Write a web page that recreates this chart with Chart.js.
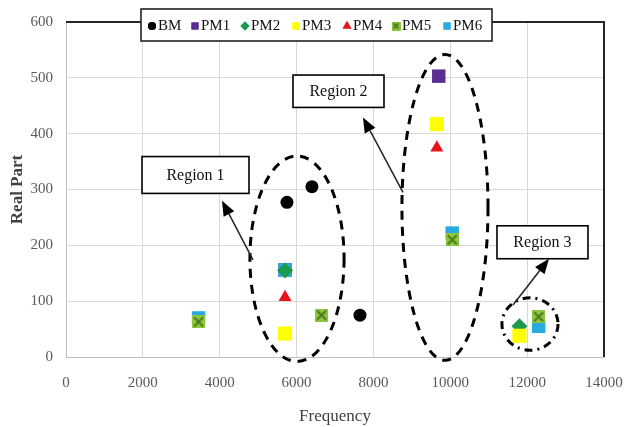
<!DOCTYPE html>
<html><head><meta charset="utf-8">
<script src="https://cdn.jsdelivr.net/npm/chart.js@4.4.1/dist/chart.umd.min.js"></script>
<style>html,body{margin:0;padding:0;background:#fff}#wrap{width:625px;height:427px}</style>
</head><body><div id="wrap"><canvas id="c" width="625" height="427"></canvas></div>
<script>
// ---- data ----
const seriesNames = ['BM','PM1','PM2','PM3','PM4','PM5','PM6'];
const bmX  = [5750, 6400, 7650];         const bmY  = [277, 305, 75];
const pm1X = [5700, 9700];               const pm1Y = [156, 503];
const pm2X = [5700, 11800];              const pm2Y = [155, 55];
const pm3X = [5700, 9650, 11800];        const pm3Y = [42, 417, 38];
const pm4X = [5700, 9650];               const pm4Y = [107, 375];
const pm5X = [3450, 6650, 10050, 12300]; const pm5Y = [63, 75, 210, 72];
const pm6X = [3450, 5700, 10050, 12300]; const pm6Y = [70, 156, 222, 55];
const xTicks = [0,2000,4000,6000,8000,10000,12000,14000];
const yTicks = [0,100,200,300,400,500,600];

function pts(xs, ys){ return xs.map((x,i)=>({x:x, y:ys[i]})); }

function pm5Marker(s){
  const c=document.createElement('canvas'); c.width=s; c.height=s;
  const g=c.getContext('2d');
  g.fillStyle='#8dc63f'; g.fillRect(0,0,s,s);
  g.strokeStyle='#4e7a1c'; g.lineWidth=2;
  g.beginPath(); g.moveTo(2,2); g.lineTo(s-2,s-2); g.moveTo(s-2,2); g.lineTo(2,s-2); g.stroke();
  return c;
}
const pm5Img = pm5Marker(13);
const pm5ImgSmall = pm5Marker(9);

const styles = [
  {c:'#000000', ps:'circle',   r:6.5, order:0},
  {c:'#5b2d90', ps:'rect',     r:9.5, order:3},
  {c:'#1e9a4f', ps:'rectRot',  r:8,   order:1},
  {c:'#ffff00', ps:'rect',     r:10,  order:0},
  {c:'#e8141b', ps:'triangle', r:7.5, order:0},
  {c:'#8dc63f', ps:pm5Img,     r:7,   order:0},
  {c:'#29abe2', ps:'rect',     r:9.5, order:2}
];
const xsAll = [bmX,pm1X,pm2X,pm3X,pm4X,pm5X,pm6X];
const ysAll = [bmY,pm1Y,pm2Y,pm3Y,pm4Y,pm5Y,pm6Y];

const datasets = seriesNames.map((n,i)=>({
  label:n, data:pts(xsAll[i], ysAll[i]),
  backgroundColor:styles[i].c, borderColor:styles[i].c, borderWidth:0,
  pointStyle:styles[i].ps, pointRadius:styles[i].r, pointHoverRadius:styles[i].r,
  order:styles[i].order
}));

// ---- annotations (in data units) ----
const ellipses = [
  {cx:6011, cy:176, rx:1225, ry:184, dash:[9,7]},
  {cx:9862, cy:268, rx:1120, ry:274, dash:[9,7]},
  {cx:12074,cy:59,  rx:730,  ry:47,  dash:[8,5,2,5]}
];
const labels = [
  {text:'Region 1', x1:1978, y1:359, x2:4762, y2:293, ax1:4866, ay1:174, ax2:4059, ay2:280},
  {text:'Region 2', x1:5907, y1:505, x2:8275, y2:447, ax1:8769, ay1:295, ax2:7728, ay2:429},
  {text:'Region 3', x1:11215,y1:235, x2:13583,y2:176, ax1:11632,ay1:93,  ax2:12568,ay2:176}
];

const serif = '"Liberation Serif","Times New Roman",serif';

const deco = {
  id:'deco',
  beforeDatasetsDraw(chart){
    const {ctx, chartArea:a} = chart;
    ctx.save();
    ctx.strokeStyle='#262626'; ctx.lineWidth=2;
    ctx.beginPath(); ctx.moveTo(a.left, a.top); ctx.lineTo(a.right, a.top); ctx.lineTo(a.right, a.bottom); ctx.stroke();
    ctx.restore();
  },
  afterDatasetsDraw(chart){
    const {ctx} = chart;
    const xs=chart.scales.x, ys=chart.scales.y;
    const px=v=>xs.getPixelForValue(v), py=v=>ys.getPixelForValue(v);
    ctx.save();
    ellipses.forEach(e=>{
      const cx=px(e.cx), cy=py(e.cy);
      const rx=Math.abs(px(e.cx+e.rx)-cx), ry=Math.abs(py(e.cy+e.ry)-cy);
      ctx.beginPath(); ctx.setLineDash(e.dash); ctx.lineWidth=3; ctx.strokeStyle='#000';
      ctx.ellipse(cx,cy,rx,ry,0,0,Math.PI*2); ctx.stroke();
    });
    ctx.setLineDash([]);
    labels.forEach(l=>{
      const x1=px(l.ax1), y1=py(l.ay1), x2=px(l.ax2), y2=py(l.ay2);
      const ang=Math.atan2(y2-y1, x2-x1), L=15, W=6;
      const bx=x2-L*Math.cos(ang), by=y2-L*Math.sin(ang);
      ctx.strokeStyle='#222'; ctx.lineWidth=1.5;
      ctx.beginPath(); ctx.moveTo(x1,y1); ctx.lineTo(bx,by); ctx.stroke();
      ctx.fillStyle='#000'; ctx.beginPath();
      ctx.moveTo(x2,y2);
      ctx.lineTo(bx+W*Math.sin(ang), by-W*Math.cos(ang));
      ctx.lineTo(bx-W*Math.sin(ang), by+W*Math.cos(ang));
      ctx.closePath(); ctx.fill();
      const X1=px(l.x1), Y1=py(l.y1), X2=px(l.x2), Y2=py(l.y2);
      ctx.fillStyle='#fff'; ctx.fillRect(X1,Y1,X2-X1,Y2-Y1);
      ctx.strokeStyle='#000'; ctx.lineWidth=1.6; ctx.strokeRect(X1,Y1,X2-X1,Y2-Y1);
      ctx.fillStyle='#111'; ctx.font='16px '+serif; ctx.textAlign='center'; ctx.textBaseline='middle';
      ctx.fillText(l.text,(X1+X2)/2,(Y1+Y2)/2+1);
    });
    ctx.restore();
  },
  afterDraw(chart){
    const {ctx} = chart;
    ctx.save();
    const L=141, T=9, R=492, B=41;
    ctx.fillStyle='#fff'; ctx.fillRect(L,T,R-L,B-T);
    ctx.strokeStyle='#222'; ctx.lineWidth=1.6; ctx.strokeRect(L,T,R-L,B-T);
    ctx.font='15px '+serif; ctx.textBaseline='middle'; ctx.textAlign='left';
    const cy=(T+B)/2+1;
    const markerX=[152,195,245,296,347,396,447];
    seriesNames.forEach((n,i)=>{
      const mx=markerX[i], s=styles[i];
      ctx.fillStyle=s.c;
      if(i===5){ ctx.drawImage(pm5ImgSmall, mx-4.5, cy-4.5); }
      else {
        Chart.helpers.drawPoint(ctx, {pointStyle: s.ps, radius: (s.ps==='circle'?4:(s.ps==='rect'?5:(s.ps==='rectRot'?4.5:5))), borderWidth:0}, mx, cy);
        ctx.fill();
      }
      ctx.fillStyle='#111';
      ctx.fillText(n, mx+6, cy);
    });
    ctx.restore();
  }
};

new Chart(document.getElementById('c'), {
  type:'scatter',
  data:{datasets:datasets},
  options:{
    responsive:false, animation:false, devicePixelRatio:1,
    layout:{padding:{left:0,right:0,top:22,bottom:0}},
    plugins:{legend:{display:false}, tooltip:{enabled:false}},
    scales:{
      x:{type:'linear', min:0, max:14000,
        afterBuildTicks(s){ s.ticks = xTicks.map(v=>({value:v})); },
        afterFit(s){ s.height=70; s.paddingRight=21; s.paddingLeft=0; },
        grid:{color:'#d9d9d9', lineWidth:1, drawTicks:false},
        border:{color:'#bfbfbf', width:1},
        ticks:{padding:17, color:'#595959', font:{family:serif, size:15}, maxRotation:0, callback:v=>String(v)},
        title:{display:true, text:'Frequency', color:'#404040', font:{family:serif, size:17}, padding:{top:2,bottom:0}}
      },
      y:{type:'linear', min:0, max:600,
        afterBuildTicks(s){ s.ticks = yTicks.map(v=>({value:v})); },
        afterFit(s){ s.width=66; },
        grid:{color:'#d9d9d9', lineWidth:1, drawTicks:false},
        border:{color:'#bfbfbf', width:1},
        ticks:{padding:13, color:'#595959', font:{family:serif, size:15}, callback:v=>String(v)},
        title:{display:true, text:'Real Part', color:'#404040', font:{family:serif, size:17, weight:'bold'}, padding:{top:7,bottom:0}}
      }
    }
  },
  plugins:[deco]
});
</script></body></html>
